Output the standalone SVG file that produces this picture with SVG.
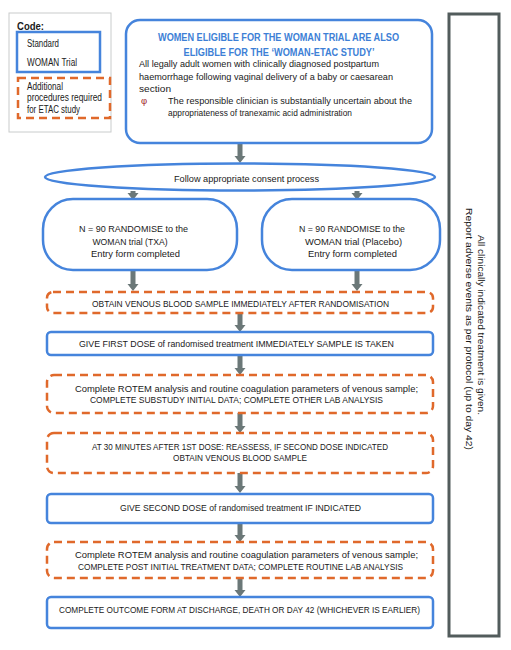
<svg xmlns="http://www.w3.org/2000/svg" width="511" height="650" viewBox="0 0 511 650">
<style>
.blue{fill:#fff;stroke:#4584dc;stroke-width:2.5}
.dash{fill:#fff;stroke:#e0692b;stroke-width:2.5;stroke-dasharray:8 5}
.arrow{fill:#6b7878}
text{font-family:"Liberation Sans",Arial,sans-serif;font-size:9.5px;fill:#1a1a1a}
.c{text-anchor:middle}
.title{font-weight:bold;fill:#3d7fd6;font-size:10px}
</style>
<rect width="511" height="650" fill="#fff"/>

<g id="legend">
<rect x="9" y="13" width="102" height="119" fill="#fff" stroke="#c9cccc" stroke-width="1"/>
<text x="17" y="30" font-weight="bold" style="font-size:10.5px" textLength="27" lengthAdjust="spacingAndGlyphs">Code:</text>
<rect x="17" y="32" width="83" height="40" class="blue"/>
<text x="27" y="47" style="font-size:10px" textLength="32" lengthAdjust="spacingAndGlyphs">Standard</text>
<text x="27" y="66" style="font-size:10px" textLength="50" lengthAdjust="spacingAndGlyphs">WOMAN Trial</text>
<rect x="18" y="78" width="92" height="40" class="dash"/>
<text x="27" y="90" style="font-size:10px" textLength="36" lengthAdjust="spacingAndGlyphs">Additional</text>
<text x="27" y="101" style="font-size:10px" textLength="75" lengthAdjust="spacingAndGlyphs">procedures required</text>
<text x="27" y="113" style="font-size:10px" textLength="53" lengthAdjust="spacingAndGlyphs">for ETAC study</text>
</g>

<g id="connectors">
<path class="arrow" d="M237.5,143 H242.5 V156 H245.5 L240,163 L234.5,156 H237.5 Z"/>
<path class="arrow" d="M130.5,191 H135.5 V193 H138.5 L133,200 L127.5,193 H130.5 Z"/>
<path class="arrow" d="M354.5,191 H359.5 V193 H362.5 L357,200 L351.5,193 H354.5 Z"/>
<path class="arrow" d="M130.5,270 H135.5 V284 H138.5 L133,291 L127.5,284 H130.5 Z"/>
<path class="arrow" d="M354.5,270 H359.5 V284 H362.5 L357,291 L351.5,284 H354.5 Z"/>
<path class="arrow" d="M237.5,313 H242.5 V325 H245.5 L240,332 L234.5,325 H237.5 Z"/>
<path class="arrow" d="M237.5,355 H242.5 V368 H245.5 L240,375 L234.5,368 H237.5 Z"/>
<path class="arrow" d="M237.5,413 H242.5 V426 H245.5 L240,433 L234.5,426 H237.5 Z"/>
<path class="arrow" d="M237.5,473 H242.5 V486 H245.5 L240,493 L234.5,486 H237.5 Z"/>
<path class="arrow" d="M237.5,523 H242.5 V535 H245.5 L240,542 L234.5,535 H237.5 Z"/>
<path class="arrow" d="M237.5,578 H242.5 V590 H245.5 L240,597 L234.5,590 H237.5 Z"/>
</g>

<g id="eligibility">
<rect x="126" y="20" width="306" height="123" rx="14" class="blue"/>
<text x="278.5" y="41" class="c title" textLength="241" lengthAdjust="spacingAndGlyphs">WOMEN ELIGIBLE FOR THE WOMAN TRIAL ARE ALSO</text>
<text x="279" y="56" class="c title" textLength="191" lengthAdjust="spacingAndGlyphs">ELIGIBLE FOR THE ‘WOMAN-ETAC STUDY’</text>
<text x="139" y="67" textLength="240" lengthAdjust="spacingAndGlyphs">All legally adult women with clinically diagnosed postpartum</text>
<text x="139" y="80" textLength="254" lengthAdjust="spacingAndGlyphs">haemorrhage following vaginal delivery of a baby or caesarean</text>
<text x="139" y="92" textLength="32" lengthAdjust="spacingAndGlyphs">section</text>
<text x="141" y="104" style="fill:#a0262a">φ</text>
<text x="168" y="104" textLength="244" lengthAdjust="spacingAndGlyphs">The responsible clinician is substantially uncertain about the</text>
<text x="168" y="116" textLength="184" lengthAdjust="spacingAndGlyphs">appropriateness of tranexamic acid administration</text>
</g>

<g id="consent">
<ellipse cx="240" cy="177" rx="195" ry="13.5" class="blue"/>
<text x="246.5" y="182" class="c" textLength="145" lengthAdjust="spacingAndGlyphs">Follow appropriate consent process</text>
</g>

<g id="randomise-txa">
<rect x="43" y="199" width="194" height="71" rx="30" class="blue"/>
<text x="133.5" y="232" class="c" textLength="109" lengthAdjust="spacingAndGlyphs">N = 90 RANDOMISE to the</text>
<text x="130" y="244.5" class="c" textLength="75" lengthAdjust="spacingAndGlyphs">WOMAN trial (TXA)</text>
<text x="135.5" y="256.5" class="c" textLength="89" lengthAdjust="spacingAndGlyphs">Entry form completed</text>
</g>

<g id="randomise-placebo">
<rect x="262" y="199" width="178" height="71" rx="30" class="blue"/>
<text x="352" y="232" class="c" textLength="106" lengthAdjust="spacingAndGlyphs">N = 90 RANDOMISE to the</text>
<text x="353.5" y="244.5" class="c" textLength="97" lengthAdjust="spacingAndGlyphs">WOMAN trial (Placebo)</text>
<text x="352.5" y="256.5" class="c" textLength="89" lengthAdjust="spacingAndGlyphs">Entry form completed</text>
</g>

<g id="blood-sample-1">
<rect x="47" y="292" width="386" height="21" rx="6" class="dash"/>
<text x="240.5" y="306.5" class="c" textLength="297" lengthAdjust="spacingAndGlyphs">OBTAIN VENOUS BLOOD SAMPLE IMMEDIATELY AFTER RANDOMISATION</text>
</g>

<g id="first-dose">
<rect x="47" y="332" width="386" height="23" rx="4" class="blue"/>
<text x="236.5" y="347" class="c" textLength="315" lengthAdjust="spacingAndGlyphs">GIVE FIRST DOSE of randomised treatment IMMEDIATELY SAMPLE IS TAKEN</text>
</g>

<g id="rotem-1">
<rect x="47" y="375" width="386" height="38" rx="7" class="dash"/>
<text x="246.5" y="391.5" class="c" textLength="343" lengthAdjust="spacingAndGlyphs">Complete ROTEM analysis and routine coagulation parameters of venous sample;</text>
<text x="236.5" y="403" class="c" textLength="293" lengthAdjust="spacingAndGlyphs">COMPLETE SUBSTUDY INITIAL DATA; COMPLETE OTHER LAB ANALYSIS</text>
</g>

<g id="reassess">
<rect x="47" y="433" width="386" height="40" rx="7" class="dash"/>
<text x="240" y="449.5" class="c" textLength="296" lengthAdjust="spacingAndGlyphs">AT 30 MINUTES AFTER 1ST DOSE: REASSESS, IF SECOND DOSE INDICATED</text>
<text x="240" y="461" class="c" textLength="134" lengthAdjust="spacingAndGlyphs">OBTAIN VENOUS BLOOD SAMPLE</text>
</g>

<g id="second-dose">
<rect x="47" y="494" width="386" height="29" rx="4" class="blue"/>
<text x="240.5" y="510.5" class="c" textLength="241" lengthAdjust="spacingAndGlyphs">GIVE SECOND DOSE of randomised treatment IF INDICATED</text>
</g>

<g id="rotem-2">
<rect x="47" y="542" width="386" height="36" rx="7" class="dash"/>
<text x="246.5" y="558" class="c" textLength="343" lengthAdjust="spacingAndGlyphs">Complete ROTEM analysis and routine coagulation parameters of venous sample;</text>
<text x="240.5" y="570" class="c" textLength="325" lengthAdjust="spacingAndGlyphs">COMPLETE POST INITIAL TREATMENT DATA; COMPLETE ROUTINE LAB ANALYSIS</text>
</g>

<g id="outcome">
<rect x="47" y="597" width="386" height="31" rx="4" class="blue"/>
<text x="239.5" y="612.5" class="c" textLength="361" lengthAdjust="spacingAndGlyphs">COMPLETE OUTCOME FORM AT DISCHARGE, DEATH OR DAY 42 (WHICHEVER IS EARLIER)</text>
</g>

<g id="clinical-care">
<rect x="449" y="14" width="50" height="622" fill="#fff" stroke="#525c5c" stroke-width="3"/>
<text transform="translate(478,325) rotate(90)" class="c" style="font-size:9px" textLength="180" lengthAdjust="spacingAndGlyphs">All clinically indicated treatment is given.</text>
<text transform="translate(466,329) rotate(90)" class="c" style="font-size:9px" textLength="242" lengthAdjust="spacingAndGlyphs">Report adverse events as per protocol (up to day 42)</text>
</g>
</svg>
